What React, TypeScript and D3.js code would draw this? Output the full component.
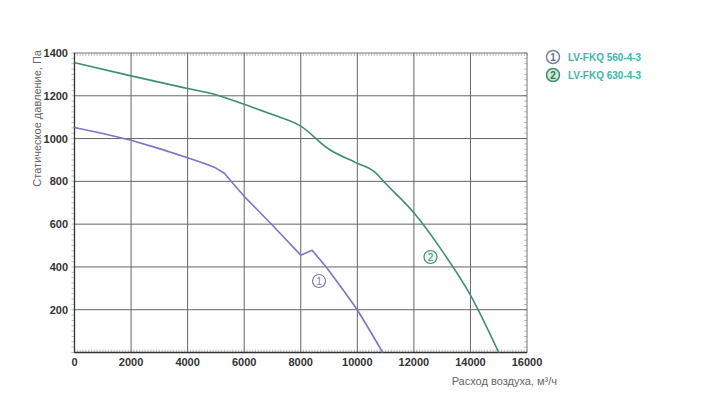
import React from "react";
import * as d3 from "d3";

const xTicks = [0, 2000, 4000, 6000, 8000, 10000, 12000, 14000, 16000];
const yTicks = [200, 400, 600, 800, 1000, 1200, 1400];

const series1Flow = [0, 1000, 2000, 3000, 4000, 4600, 5000, 5300, 5500, 6000, 7000, 8000, 8400, 8900, 9500, 10000, 10500, 10900];
const series1Pressure = [1052, 1024, 992, 953, 910, 884, 862, 838, 806, 730, 595, 455, 478, 400, 292, 200, 90, 0];

const series2Flow = [0, 2000, 4000, 5000, 6000, 7000, 8000, 9000, 10000, 10600, 11000, 12000, 13000, 14000, 15000];
const series2Pressure = [1355, 1293, 1234, 1205, 1160, 1112, 1058, 950, 885, 845, 790, 653, 475, 268, 0];

const legendLabels = ["LV-FKQ 560-4-3", "LV-FKQ 630-4-3"];
const markers = ["1", "2"];
const yTitle = "Статическое давление, Па";
const xTitle = "Расход воздуха, м³/ч";

const C1 = "#7b76c2";
const C2 = "#3f8f6f";

export default function App() {
  const x = d3.scaleLinear().domain([0, 16000]).range([74.5, 527]);
  const y = d3.scaleLinear().domain([0, 1400]).range([352.5, 53]);
  const line1 = d3
    .line<[number, number]>()
    .x((d) => x(d[0]))
    .y((d) => y(d[1]))
    .curve(d3.curveLinear);
  const line2 = d3
    .line<[number, number]>()
    .x((d) => x(d[0]))
    .y((d) => y(d[1]))
    .curve(d3.curveMonotoneX);
  const d1 = line1(series1Flow.map((f, i) => [f, series1Pressure[i]] as [number, number])) || "";
  const d2 = line2(series2Flow.map((f, i) => [f, series2Pressure[i]] as [number, number])) || "";

  const minorX = d3.range(0, 16001, 100);
  const minorY = d3.range(0, 1401, 25);
  const font = "Liberation Sans, Arial, sans-serif";

  return (
    <svg
      width={704}
      height={400}
      style={{ position: "absolute", left: 0, top: 0, background: "#fff" }}
      fontFamily={font}
    >
      <rect x={0} y={0} width={704} height={400} fill="#fff" />
      {/* minor ticks */}
      <g stroke="#aaa" strokeWidth={0.8}>
        {minorX.map((v) => (
          <line key={"mt" + v} x1={x(v)} x2={x(v)} y1={y(1400)} y2={y(1400) + 3} />
        ))}
        {minorX.map((v) => (
          <line key={"mb" + v} x1={x(v)} x2={x(v)} y1={y(0)} y2={y(0) - 3} />
        ))}
        {minorY.map((v) => (
          <line key={"mr" + v} x1={x(16000)} x2={x(16000) - 3} y1={y(v)} y2={y(v)} />
        ))}
        {minorY.map((v) => (
          <line key={"ml" + v} x1={x(0)} x2={x(0) - 3} y1={y(v)} y2={y(v)} />
        ))}
      </g>
      {/* grid */}
      <g stroke="#666" strokeWidth={1}>
        {xTicks.slice(1, -1).map((v) => (
          <line key={"gx" + v} x1={x(v)} x2={x(v)} y1={y(0)} y2={y(1400)} />
        ))}
        {yTicks.slice(0, -1).map((v) => (
          <line key={"gy" + v} x1={x(0)} x2={x(16000)} y1={y(v)} y2={y(v)} />
        ))}
      </g>
      {/* frame */}
      <rect
        x={x(0)}
        y={y(1400)}
        width={x(16000) - x(0)}
        height={y(0) - y(1400)}
        fill="none"
        stroke="#777"
        strokeWidth={1}
      />
      <line x1={x(0)} x2={x(0)} y1={y(0)} y2={y(1400)} stroke="#333" strokeWidth={1.3} />
      <line x1={x(0)} x2={x(16000)} y1={y(0)} y2={y(0)} stroke="#333" strokeWidth={1.3} />
      {/* y tick labels */}
      <g fontSize={11} fontWeight="bold" fill="#333" textAnchor="end">
        {yTicks.map((v) => (
          <text key={"yl" + v} x={68} y={y(v) + 4}>
            {v}
          </text>
        ))}
      </g>
      {/* x tick labels */}
      <g fontSize={11} fontWeight="bold" fill="#333" textAnchor="middle">
        {xTicks.map((v) => (
          <text key={"xl" + v} x={x(v)} y={366}>
            {v}
          </text>
        ))}
      </g>
      {/* axis titles */}
      <text
        transform={`translate(41,50) rotate(-90)`}
        textAnchor="end"
        fontSize={11}
        fill="#666"
      >
        {yTitle}
      </text>
      <text x={557} y={385} textAnchor="end" fontSize={11} fill="#666">
        {xTitle}
      </text>
      {/* curves */}
      <path d={d1} fill="none" stroke={C1} strokeWidth={1.6} strokeLinejoin="round" />
      <path d={d2} fill="none" stroke={C2} strokeWidth={1.6} />
      {/* curve markers */}
      <g>
        <circle cx={319} cy={281} r={6.5} fill="#fff" stroke={C1} strokeWidth={1.2} />
        <text x={319} y={285} textAnchor="middle" fontSize={10} fill={C1}>
          {markers[0]}
        </text>
        <circle cx={430.5} cy={257} r={6.5} fill="#e8f4ee" stroke={C2} strokeWidth={1.2} />
        <text x={430.5} y={261} textAnchor="middle" fontSize={10} fill={C2}>
          {markers[1]}
        </text>
      </g>
      {/* legend */}
      <g>
        <circle cx={553} cy={57} r={6.5} fill="#fff" stroke="#7d7fa0" strokeWidth={1.5} />
        <text x={553} y={61} textAnchor="middle" fontSize={10} fontWeight="bold" fill="#6a6d90">
          {markers[0]}
        </text>
        <text x={568} y={61} fontSize={10} fontWeight="bold" fill="#3fb5ad">
          {legendLabels[0]}
        </text>
        <circle cx={553} cy={75} r={6.5} fill="#cfe8da" stroke="#3f8f6f" strokeWidth={1.5} />
        <text x={553} y={79} textAnchor="middle" fontSize={10} fontWeight="bold" fill="#2f7a58">
          {markers[1]}
        </text>
        <text x={568} y={79} fontSize={10} fontWeight="bold" fill="#3fb5ad">
          {legendLabels[1]}
        </text>
      </g>
    </svg>
  );
}
